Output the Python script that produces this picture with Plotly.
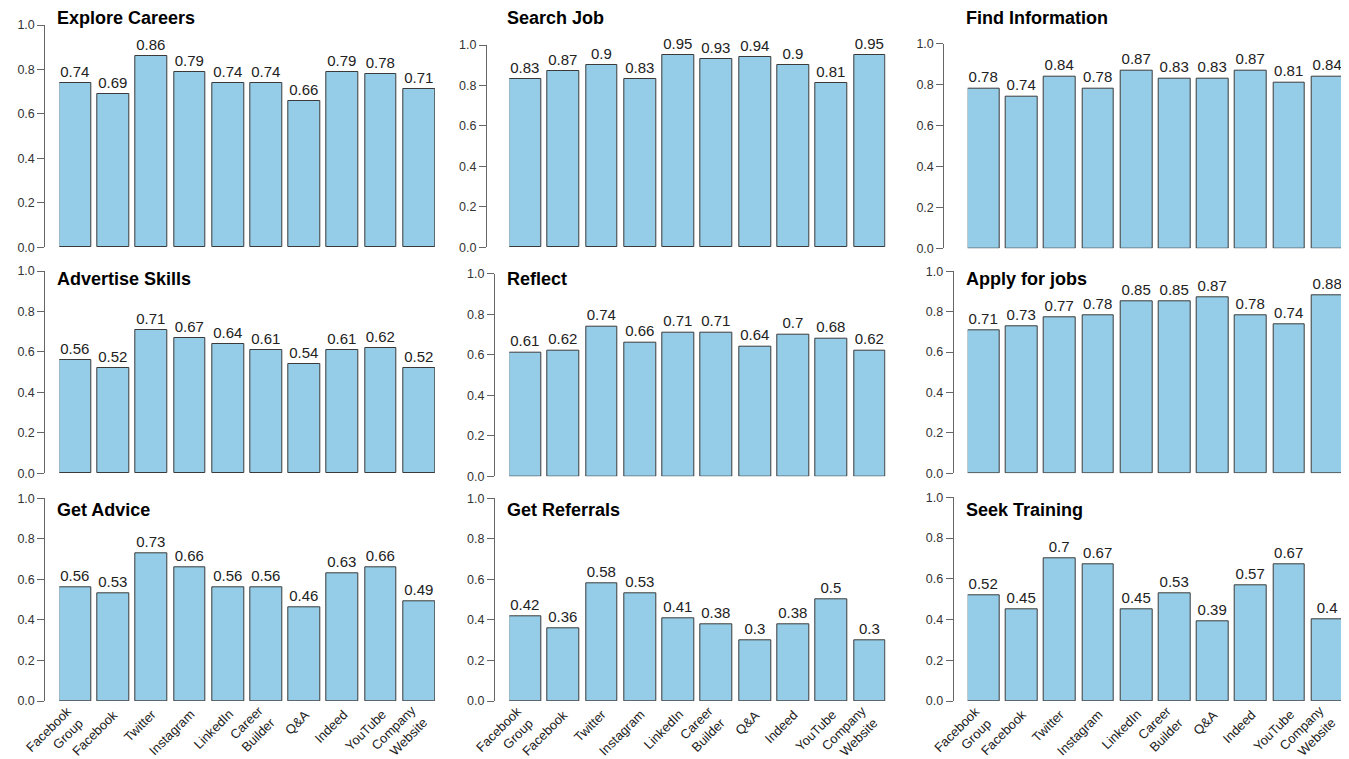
import plotly.graph_objects as go

PAGE_W, PAGE_H = 1349, 759
OFF = 8  # default page body margin
W, H = PAGE_W - OFF, PAGE_H - OFF

categories = ["Facebook<br>Group", "Facebook", "Twitter", "Instagram", "LinkedIn",
              "Career<br>Builder", "Q&A", "Indeed", "YouTube", "Company<br>Website"]

titles = ["Explore Careers", "Search Job", "Find Information",
          "Advertise Skills", "Reflect", "Apply for jobs",
          "Get Advice", "Get Referrals", "Seek Training"]

explore_careers = [0.74, 0.69, 0.86, 0.79, 0.74, 0.74, 0.66, 0.79, 0.78, 0.71]
search_job = [0.83, 0.87, 0.9, 0.83, 0.95, 0.93, 0.94, 0.9, 0.81, 0.95]
find_information = [0.78, 0.74, 0.84, 0.78, 0.87, 0.83, 0.83, 0.87, 0.81, 0.84]
advertise_skills = [0.56, 0.52, 0.71, 0.67, 0.64, 0.61, 0.54, 0.61, 0.62, 0.52]
reflect = [0.61, 0.62, 0.74, 0.66, 0.71, 0.71, 0.64, 0.7, 0.68, 0.62]
apply_for_jobs = [0.71, 0.73, 0.77, 0.78, 0.85, 0.85, 0.87, 0.78, 0.74, 0.88]
get_advice = [0.56, 0.53, 0.73, 0.66, 0.56, 0.56, 0.46, 0.63, 0.66, 0.49]
get_referrals = [0.42, 0.36, 0.58, 0.53, 0.41, 0.38, 0.3, 0.38, 0.5, 0.3]
seek_training = [0.52, 0.45, 0.7, 0.67, 0.45, 0.53, 0.39, 0.57, 0.67, 0.4]

series = [explore_careers, search_job, find_information,
          advertise_skills, reflect, apply_for_jobs,
          get_advice, get_referrals, seek_training]

y_ticks = [0, 0.2, 0.4, 0.6, 0.8, 1.0]
y_tick_labels = ["0.0", "0.2", "0.4", "0.6", "0.8", "1.0"]

# panel geometry in page pixels: bar-left, bar-right, y-axis x, y of 0.0, y of 1.0, title y
panels = [
    (59.3, 435.0, 44.3, 247.3, 25.0, 18.5),
    (509.3, 885.7, 486.0, 247.3, 45.0, 18.5),
    (967.7, 1343.3, 943.3, 248.3, 43.7, 18.5),
    (59.3, 435.0, 44.3, 473.3, 271.0, 279.5),
    (509.3, 885.7, 494.0, 476.3, 273.7, 279.5),
    (967.7, 1343.3, 952.7, 473.3, 271.3, 279.5),
    (59.3, 435.0, 44.3, 701.0, 498.3, 510.0),
    (509.3, 885.7, 494.0, 701.0, 498.3, 510.0),
    (967.7, 1343.3, 952.7, 701.0, 497.3, 510.0),
]


def px_x(p):
    return (p - OFF) / W


def px_y(p):
    return 1 - (p - OFF) / H


FONT = "Liberation Sans, Arial, Helvetica, sans-serif"
BAR_W = 1 / 1.2

fig = go.Figure()
annotations = []
layout = {}

for i, (vals, title, geo) in enumerate(zip(series, titles, panels)):
    L, R, ax, y0, y1, ty = geo
    n = i + 1
    xa = "x" if n == 1 else f"x{n}"
    ya = "y" if n == 1 else f"y{n}"
    fig.add_trace(go.Bar(
        x=list(range(len(categories))), y=vals,
        xaxis=xa, yaxis=ya, width=BAR_W,
        marker=dict(color="#95CDE8", line=dict(color="#3a3a3a", width=1)),
        text=[f"{v:g}" for v in vals], textposition="outside",
        textfont=dict(family=FONT, size=15, color="#222222"),
        cliponaxis=False, showlegend=False, hoverinfo="skip",
    ))
    layout[f"xaxis{'' if n == 1 else n}"] = dict(
        domain=[px_x(L), px_x(R)], anchor=ya, automargin=False,
        range=[-BAR_W / 2, len(categories) - 1 + BAR_W / 2],
        showline=False, showgrid=False, zeroline=False, ticks="",
        showticklabels=False, fixedrange=True,
    )
    layout[f"yaxis{'' if n == 1 else n}"] = dict(
        domain=[px_y(y0), px_y(y1)], anchor="free", position=px_x(ax),
        automargin=False,
        range=[0, 1], showline=True, linecolor="#666666", linewidth=1,
        ticks="outside", ticklen=7, tickcolor="#666666", tickwidth=1,
        tickmode="array", tickvals=y_ticks, ticktext=y_tick_labels,
        tickfont=dict(family=FONT, size=12.5, color="#333333"),
        showgrid=False, zeroline=False, fixedrange=True,
    )
    annotations.append(dict(
        text=f"<b>{title}</b>", xref="paper", yref="paper",
        x=px_x(L - 4), y=px_y(ty), xanchor="left", yanchor="middle",
        showarrow=False, font=dict(family=FONT, size=18, color="#000000"),
    ))
    if i >= 6:
        for j, cat in enumerate(categories):
            multi = "<br>" in cat
            annotations.append(dict(
                text=cat, xref=xa, yref="paper", x=j, y=px_y(y0 + 3),
                xanchor="right", yanchor="top", textangle=-45, align="right",
                xshift=14.5 if multi else 10.5, yshift=3.5 if multi else 0,
                showarrow=False, font=dict(family=FONT, size=13, color="#222222"),
            ))

fig.update_layout(
    width=W, height=H, margin=dict(l=0, r=0, t=0, b=0, autoexpand=False),
    paper_bgcolor="white", plot_bgcolor="white",
    annotations=annotations, bargap=0, **layout,
)

fig.write_html("out.html")
